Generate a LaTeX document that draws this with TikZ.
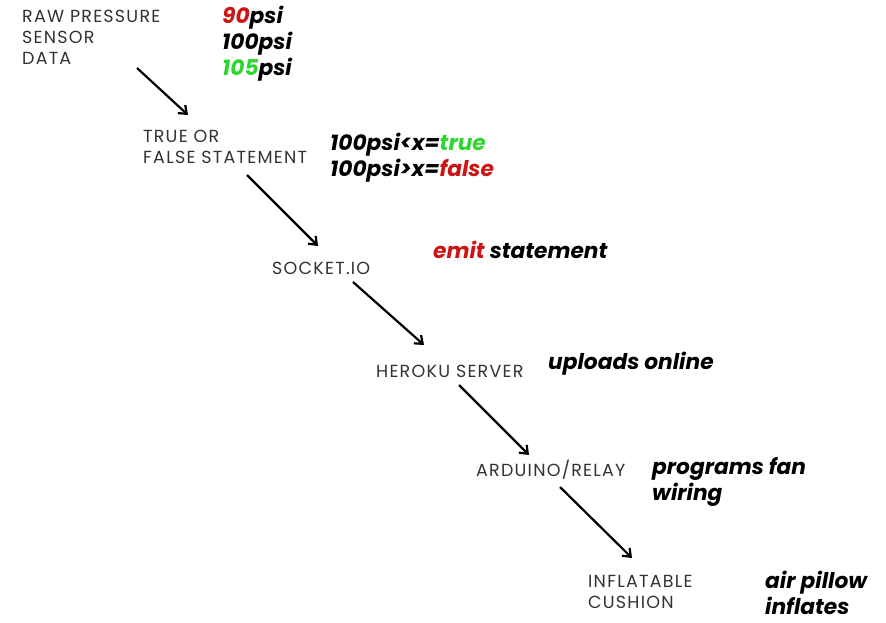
\documentclass[tikz,border=0pt]{standalone}
\usepackage{fontspec}
\setmainfont{Poppins}
\newfontfamily\stagefont[LetterSpace=7]{Poppins}
\usetikzlibrary{arrows.meta}
\definecolor{txtgray}{HTML}{333333}
\definecolor{hred}{HTML}{CC1414}
\definecolor{hgreen}{HTML}{2FD62F}
\tikzset{
  stage/.style={anchor=west, inner sep=0pt, align=left, text=txtgray,
    font=\stagefont\fontsize{17.5}{21}\selectfont},
  note/.style={anchor=west, inner sep=0pt, align=left, text=black,
    font=\fontsize{21.7}{26}\selectfont\bfseries\itshape},
  flow/.style={line width=2.2pt, -{Straight Barb[length=7pt,width=11pt,line width=2.2pt]}}
}
\begin{document}
\begin{tikzpicture}[x=1pt,y=-1pt]
\useasboundingbox[fill=white] (0,0) rectangle (886,622);
% stages
\node[stage] (raw) at (22,37) {RAW PRESSURE\\SENSOR\\DATA};
\node[stage] (tf) at (143,147) {TRUE OR\\FALSE STATEMENT};
\node[stage] (sock) at (272,268) {SOCKET.IO};
\node[stage] (her) at (376,371) {HEROKU SERVER};
\node[stage] (ard) at (476,470) {ARDUINO/RELAY};
\node[stage] (inf) at (588,592) {INFLATABLE\\CUSHION};
% notes
\node[note] (n1) at (222,44) {\textcolor{hred}{90}psi\\100psi\\\textcolor{hgreen}{105}psi};
\node[note] (n2) at (330,158) {100psi<x=\textcolor{hgreen}{true}\\100psi>x=\textcolor{hred}{false}};
\node[note] (n3) at (433,250) {\textcolor{hred}{emit} statement};
\node[note] (n4) at (548,364) {uploads online};
\node[note] (n5) at (652,482) {programs fan\\wiring};
\node[note] (n6) at (765,593) {air pillow\\inflates};
% connector ends
\coordinate (a1s) at (137,68);  \coordinate (a1e) at (188,115);
\coordinate (a2s) at (247,175); \coordinate (a2e) at (318,246);
\coordinate (a3s) at (353,282); \coordinate (a3e) at (424,345);
\coordinate (a4s) at (459,385); \coordinate (a4e) at (529,455);
\coordinate (a5s) at (560,487); \coordinate (a5e) at (632,558);
\draw[flow] (a1s) -- (a1e);
\draw[flow] (a2s) -- (a2e);
\draw[flow] (a3s) -- (a3e);
\draw[flow] (a4s) -- (a4e);
\draw[flow] (a5s) -- (a5e);
\end{tikzpicture}
\end{document}
